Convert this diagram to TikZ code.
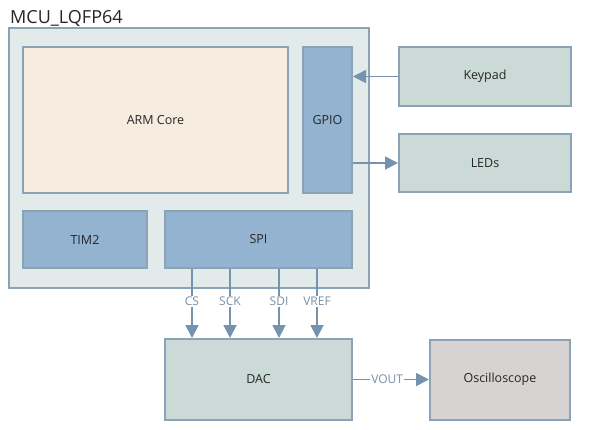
\documentclass[tikz,border=0pt]{standalone}
\usepackage{fontspec}
\setmainfont{Open Sans}
\usetikzlibrary{arrows.meta}
\definecolor{mcuFill}{HTML}{E2EBEA}
\definecolor{edgeCol}{HTML}{8CA2B6}
\definecolor{armFill}{HTML}{F6EDE0}
\definecolor{blueFill}{HTML}{93B3D0}
\definecolor{periphFill}{HTML}{CBDAD6}
\definecolor{oscFill}{HTML}{D7D3D3}
\definecolor{connCol}{HTML}{7493AF}
\definecolor{lblCol}{HTML}{7791A8}
\tikzset{
	blk/.style = {draw = edgeCol, line width = 2pt, inner sep = 0pt, font = \fontsize{12.5}{14}\selectfont, text = black!85},
	conn/.style = {draw = connCol, line width = 1.8pt, -{Triangle[length = 13pt, width = 13pt]}},
	siglbl/.style = {fill = white, text = lblCol, inner sep = 1pt, font = \fontsize{12}{14}\selectfont}
}
\begin{document}
\begin{tikzpicture}[x = 1pt, y = -1pt]
	\useasboundingbox (0, 0) rectangle (593, 429);
	
	\node[blk, fill = mcuFill, minimum width = 360pt, minimum height = 260pt] (mcu) at (189, 158) {};
	\node[anchor = base west, inner sep = 0pt, font = \fontsize{18}{20}\selectfont, text = black!85] (title) at (10, 23) {MCU\_LQFP64};
	
	\node[blk, fill = armFill, minimum width = 265pt, minimum height = 146pt] (arm) at (155.5, 120) {ARM Core};
	\node[blk, fill = blueFill, minimum width = 49pt, minimum height = 146pt] (gpio) at (327.5, 120) {GPIO};
	\node[blk, fill = blueFill, minimum width = 124pt, minimum height = 57pt] (tim) at (85, 239.5) {TIM2};
	\node[blk, fill = blueFill, minimum width = 187pt, minimum height = 57pt] (spi) at (258.5, 239.5) {SPI};
	
	\node[blk, fill = periphFill, minimum width = 172pt, minimum height = 59pt] (keypad) at (485, 76.5) {Keypad};
	\node[blk, fill = periphFill, minimum width = 172pt, minimum height = 58pt] (leds) at (485, 163) {LEDs};
	\node[blk, fill = periphFill, minimum width = 187pt, minimum height = 81pt] (dac) at (258.5, 379.5) {DAC};
	\node[blk, fill = oscFill, minimum width = 140pt, minimum height = 80pt] (osc) at (500, 379.5) {Oscilloscope};
	
	\draw[conn] (keypad.west) -- (keypad.west -| gpio.east);
	\draw[conn] (leds.west -| gpio.east) -- (leds.west);
	\foreach \x/\sig in {192/CS, 230/SCK, 279/SDI, 317/VREF}
		\draw[conn] (spi.south -| \x, 0) -- node[siglbl, pos = 0.47] {\sig} (dac.north -| \x, 0);
	\draw[conn] (dac.east) -- node[siglbl, pos = 0.45] {VOUT} (osc.west);
\end{tikzpicture}
\end{document}
